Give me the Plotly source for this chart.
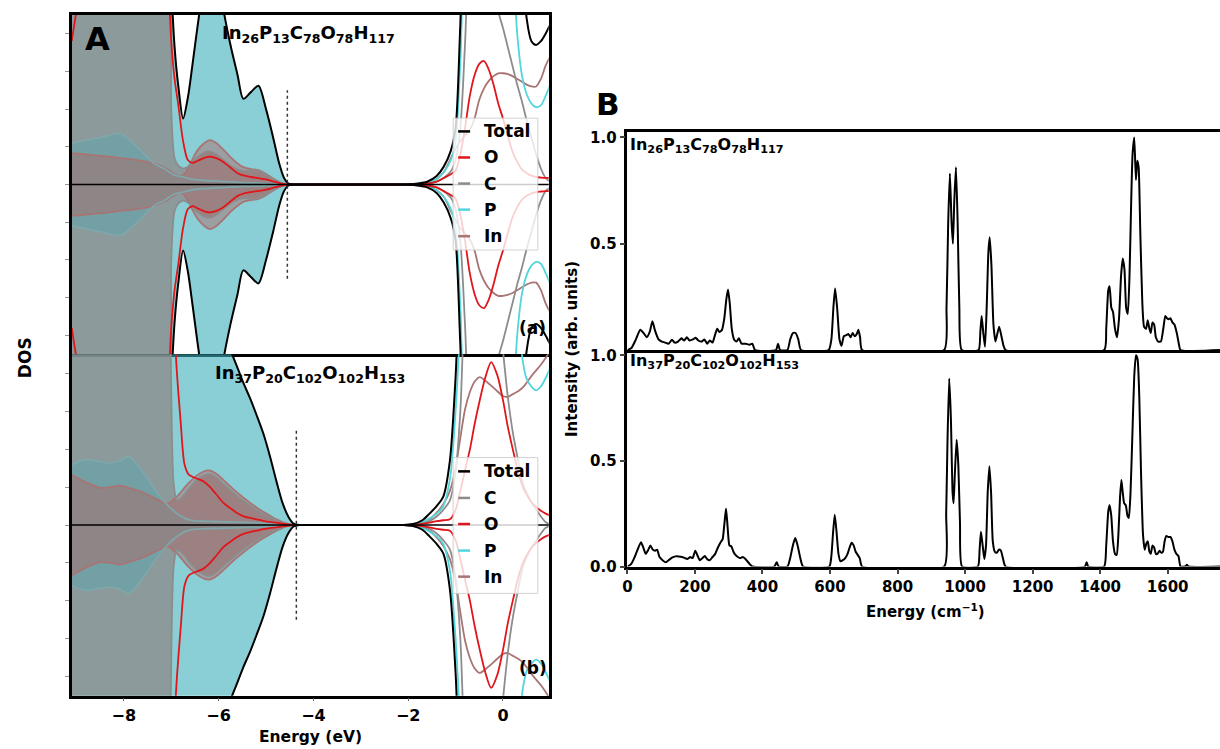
import plotly.graph_objects as go

W, H = 1220, 749
def px(x): return x / W
def py(y): return 1 - y / H

# ---------------- Panel A : projected DOS (spin up; spin down is mirrored) ----------------
E_a = [-9.1, -8.9, -8.7, -8.4, -8.07, -7.72, -7.37, -7.15, -7.06, -7.0,
       -6.93, -6.85, -6.75, -6.65, -6.55, -6.45, -6.3, -6.18, -6.05, -5.9,
       -5.75, -5.6, -5.48, -5.32, -5.16, -5.0, -4.85, -4.72, -4.62, -4.53,
       -4.4, -4.0, -3.0, -2.2, -2.0, -1.8, -1.6, -1.4, -1.25, -1.1,
       -1.0, -0.9, -0.8, -0.7, -0.6, -0.5, -0.4, -0.3, -0.2, -0.1,
       0.0, 0.1, 0.2, 0.3, 0.4, 0.5, 0.6, 0.7, 0.8, 0.9, 1.0]
TOTAL_a = [14, 14, 14, 14, 14, 14, 14, 14, 14, 10.5,
           7.3, 5.2, 3.5, 4.6, 6.4, 8.3, 11, 13, 12, 9.3,
           7.4, 5.8, 4.55, 4.9, 5.24, 4.0, 2.5, 1.1, 0.35, 0.05,
           0, 0, 0, 0, 0.01, 0.05, 0.15, 0.45, 0.95, 1.8,
           3.0, 8.5, 14, 14, 14, 14, 14, 14, 14, 14,
           14, 14, 14, 14, 12, 8.8, 7.6, 7.4, 7.6, 8.0, 8.5]
O_a = [7.6, 10.5, 12, 12, 12, 12, 12, 12, 10.5, 7.6,
       5.6, 4.2, 2.3, 1.3, 1.15, 1.25, 1.42, 1.48, 1.4, 1.2,
       0.9, 0.6, 0.48, 0.4, 0.34, 0.27, 0.17, 0.08, 0.03, 0,
       0, 0, 0, 0, 0, 0.02, 0.05, 0.15, 0.35, 0.55,
       0.75, 1.6, 3.0, 4.7, 5.8, 6.4, 6.55, 6.1, 5.3, 4.3,
       3.5, 2.6, 1.75, 1.2, 0.8, 0.6, 0.47, 0.4, 0.37, 0.35, 0.35]
C_a = [14, 14, 14, 14, 14, 14, 14, 14, 14, 4.0,
       1.4, 1.0, 0.85, 0.95, 1.2, 1.45, 1.7, 1.75, 1.6, 1.3,
       1.0, 0.8, 0.72, 0.75, 0.72, 0.52, 0.3, 0.12, 0.04, 0,
       0, 0, 0, 0, 0, 0.02, 0.05, 0.15, 0.35, 0.7,
       1.3, 3.0, 7.5, 13, 14, 14, 14, 14, 11.5, 9.2,
       8.3, 7.3, 6.3, 5.3, 4.4, 3.4, 2.5, 1.6, 0.85, 0.35, 0.15]
P_a = [2.18, 2.3, 2.4, 2.55, 2.7, 2.0, 1.13, 0.85, 0.7, 0.6,
       0.5, 0.45, 0.4, 0.33, 0.28, 0.25, 0.22, 0.2, 0.18, 0.16,
       0.14, 0.12, 0.1, 0.09, 0.08, 0.06, 0.04, 0.02, 0.01, 0,
       0, 0, 0, 0, 0.01, 0.04, 0.1, 0.3, 0.65, 1.3,
       2.3, 6.5, 13, 14, 14, 14, 14, 14, 14, 14,
       14, 14, 12, 8.0, 5.8, 4.8, 4.3, 4.1, 4.2, 4.7, 5.3]
IN_a = [1.66, 1.62, 1.57, 1.5, 1.4, 1.3, 1.13, 0.9, 0.78, 0.68,
        0.56, 0.46, 0.5, 0.85, 1.35, 1.8, 2.2, 2.36, 2.2, 1.85,
        1.45, 1.12, 0.92, 0.82, 0.76, 0.56, 0.32, 0.14, 0.05, 0.01,
        0, 0, 0, 0, 0.01, 0.04, 0.1, 0.3, 0.65, 1.4,
        1.9, 2.3, 2.6, 2.9, 3.5, 4.5, 5.1, 5.5, 5.75, 5.9,
        5.9, 5.85, 5.75, 5.6, 5.45, 5.3, 5.2, 5.2, 5.6, 6.3, 6.8]

E_b = [-9.1, -8.84, -8.5, -8.28, -8.07, -7.89, -7.58, -7.3, -7.09, -7.02,
       -6.95, -6.88, -6.8, -6.72, -6.63, -6.49, -6.32, -6.2, -6.05, -5.9,
       -5.76, -5.62, -5.48, -5.34, -5.2, -5.06, -4.92, -4.78, -4.65, -4.52,
       -4.42, -4.3, -3.5, -2.5, -2.1, -1.9, -1.7, -1.55, -1.4, -1.26,
       -1.12, -1.0, -0.9, -0.8, -0.7, -0.6, -0.49, -0.37, -0.25, -0.12,
       0.0, 0.1, 0.21, 0.32, 0.42, 0.5, 0.6, 0.7, 0.8, 0.9, 1.0]
TOTAL_b = [14, 14, 14, 14, 14, 14, 14, 14, 14, 14,
           14, 14, 14, 14, 14, 14, 14, 14, 14, 10.5,
           9.3, 8.4, 7.5, 6.7, 5.8, 4.85, 3.65, 2.3, 1.15, 0.4,
           0.08, 0, 0, 0, 0, 0.05, 0.25, 0.6, 1.0, 1.5,
           3.4, 7.8, 13, 14, 14, 14, 14, 14, 14, 14,
           14, 14, 14, 14, 14, 14, 14, 14, 14, 14, 14]
C_b = [14, 14, 14, 14, 14, 14, 14, 14, 14, 10,
       2.2, 1.3, 1.4, 1.6, 1.9, 2.3, 2.6, 2.68, 2.5, 2.15,
       1.85, 1.55, 1.28, 1.03, 0.8, 0.6, 0.42, 0.25, 0.12, 0.04,
       0, 0, 0, 0, 0, 0.02, 0.08, 0.2, 0.45, 0.8,
       1.3, 2.8, 6.0, 12, 14, 14, 14, 14, 14, 12.5,
       9.2, 6.8, 4.84, 3.4, 2.22, 1.7, 1.2, 0.82, 0.45, 0.15, 0.05]
O_b = [14, 14, 14, 14, 14, 14, 14, 14, 14, 14,
       11, 8.0, 5.4, 3.2, 2.65, 2.48, 2.3, 2.05, 1.62, 1.17,
       0.9, 0.65, 0.47, 0.37, 0.3, 0.22, 0.16, 0.12, 0.07, 0.03,
       0, 0, 0, 0, 0, 0.02, 0.06, 0.12, 0.2, 0.25,
       0.3, 0.8, 1.8, 2.9, 3.96, 5.3, 6.58, 7.8, 8.59, 7.9,
       6.58, 5.2, 3.96, 2.8, 2.0, 1.6, 1.2, 0.95, 0.75, 0.6, 0.5]
P_b = [3.18, 3.44, 3.35, 3.27, 3.4, 3.61, 2.74, 1.7, 1.08, 0.9,
       0.75, 0.6, 0.47, 0.36, 0.28, 0.22, 0.2, 0.19, 0.18, 0.17,
       0.16, 0.15, 0.14, 0.13, 0.12, 0.1, 0.08, 0.05, 0.03, 0.01,
       0, 0, 0, 0, 0, 0.03, 0.15, 0.35, 0.6, 1.0,
       2.4, 6.0, 10.5, 14, 14, 14, 14, 14, 14, 14,
       14, 14, 14, 11, 8.6, 7.7, 7.3, 7.1, 7.3, 7.75, 8.3]
IN_b = [2.65, 2.3, 1.96, 2.0, 2.08, 1.95, 1.7, 1.35, 1.14, 1.2,
        1.35, 1.5, 1.72, 1.97, 2.22, 2.55, 2.82, 2.88, 2.7, 2.38,
        2.05, 1.73, 1.45, 1.18, 0.92, 0.7, 0.5, 0.3, 0.15, 0.05,
        0.01, 0, 0, 0, 0, 0.03, 0.12, 0.3, 0.65, 1.1,
        1.8, 3.0, 4.6, 6.1, 7.0, 7.55, 7.8, 7.6, 7.35, 7.05,
        6.8, 6.75, 6.9, 7.05, 7.25, 7.5, 7.85, 8.15, 8.45, 8.8, 9.2]

VBM = [-4.55, -4.36]          # valence band maximum markers (eV)
VBM_HALF = 5.0                # half height of the dotted marker
FORMULAS = ["In<sub>26</sub>P<sub>13</sub>C<sub>78</sub>O<sub>78</sub>H<sub>117</sub>",
            "In<sub>37</sub>P<sub>20</sub>C<sub>102</sub>O<sub>102</sub>H<sub>153</sub>"]
LEGEND_ORDERS = [["Total", "O", "C", "P", "In"], ["Total", "C", "O", "P", "In"]]
EV_TICKS = [-8, -6, -4, -2, 0]

# ---------------- Panel B : vibrational spectra ----------------
WN_a = [0, 12, 25, 38, 48, 57, 66, 74, 82, 92, 102, 112, 122, 132, 140, 150, 160, 168, 176, 184,
        194, 202, 210, 220, 228, 236, 244, 252, 260, 266, 272, 280, 287, 293, 298, 303, 309, 316, 323, 330,
        338, 350, 362, 370, 378, 440, 446, 452, 474, 482, 490, 498, 506, 514,
        596, 604, 610, 615, 621, 628, 634, 641, 648, 655, 661, 667, 673, 679, 684, 689, 695,
        938, 945, 950, 955, 960, 964, 968, 973, 978, 983, 990,
        1040, 1045, 1049, 1054, 1059, 1064, 1069, 1073, 1078, 1084, 1090, 1096, 1101, 1107, 1114, 1120,
        1412, 1418, 1424, 1428, 1433, 1438, 1444, 1450, 1456, 1462, 1467, 1472, 1477, 1482, 1487, 1492,
        1496, 1501, 1506, 1510, 1514, 1519, 1525, 1530, 1536, 1541, 1546, 1550, 1555, 1560, 1565, 1572,
        1580, 1587, 1593, 1598, 1603, 1608, 1614, 1620, 1627, 1633, 1638, 1755]
INT_a = [0, 0.01, 0.05, 0.095, 0.08, 0.06, 0.085, 0.135, 0.09, 0.05, 0.04, 0.035, 0.03, 0.048, 0.035, 0.04, 0.055, 0.045, 0.06, 0.045,
         0.05, 0.058, 0.045, 0.04, 0.05, 0.03, 0.045, 0.035, 0.075, 0.1, 0.085, 0.095, 0.15, 0.24, 0.285, 0.22, 0.1, 0.05, 0.04, 0.055,
         0.03, 0.03, 0.025, 0.03, 0, 0, 0.03, 0, 0, 0.05, 0.08, 0.08, 0.05, 0,
         0, 0.05, 0.2, 0.29, 0.2, 0.05, 0.02, 0.065, 0.07, 0.075, 0.06, 0.08, 0.065, 0.075, 0.095, 0.06, 0,
         0, 0.2, 0.6, 0.83, 0.6, 0.5, 0.7, 0.86, 0.6, 0.2, 0,
         0, 0.08, 0.16, 0.08, 0.015, 0.2, 0.46, 0.53, 0.4, 0.12, 0.04, 0.08, 0.11, 0.07, 0.02, 0,
         0, 0.1, 0.28, 0.3, 0.2, 0.18, 0.1, 0.06, 0.15, 0.35, 0.43, 0.38, 0.2, 0.17, 0.35, 0.7,
         0.92, 1.0, 0.8, 0.89, 0.86, 0.55, 0.22, 0.11, 0.1, 0.14, 0.1, 0.08, 0.13, 0.12, 0.06, 0.04,
         0.04, 0.1, 0.16, 0.15, 0.145, 0.15, 0.13, 0.12, 0.08, 0.03, 0, 0]
WN_b = [0, 10, 20, 30, 40, 47, 54, 62, 68, 75, 82, 88, 95, 104, 114, 122, 132, 142, 152, 162,
        170, 178, 186, 193, 201, 208, 214, 222, 229, 236, 244, 252, 260, 268, 276, 282, 287, 292, 297, 302,
        308, 314, 320, 327, 334, 341, 348, 355, 362, 370, 435, 442, 448, 474, 482, 490, 497, 504, 512, 520,
        598, 604, 609, 614, 619, 625, 631, 638, 645, 652, 658, 664, 670, 676, 682, 688, 695,
        938, 944, 948, 953, 958, 963, 966, 970, 975, 980, 985, 991,
        1038, 1043, 1047, 1052, 1057, 1062, 1067, 1072, 1077, 1082, 1088, 1094, 1100, 1106, 1112, 1120,
        1355, 1360, 1365,
        1412, 1418, 1424, 1428, 1433, 1438, 1444, 1449, 1454, 1459, 1463, 1467, 1471, 1476, 1481, 1485,
        1490, 1496, 1501, 1506, 1511, 1516, 1521, 1527, 1532, 1537, 1541, 1546, 1550, 1555, 1560, 1565,
        1570, 1576, 1581, 1586, 1591, 1596, 1602, 1608, 1614, 1620, 1626, 1632, 1638, 1652, 1657, 1662, 1755]
INT_b = [0, 0.01, 0.04, 0.08, 0.115, 0.09, 0.06, 0.08, 0.1, 0.08, 0.075, 0.08, 0.045, 0.03, 0.02, 0.03, 0.042, 0.048, 0.048, 0.045,
         0.04, 0.036, 0.045, 0.04, 0.075, 0.05, 0.03, 0.04, 0.05, 0.035, 0.03, 0.045, 0.06, 0.09, 0.115, 0.13, 0.2, 0.275, 0.18, 0.1,
         0.095, 0.07, 0.055, 0.045, 0.04, 0.045, 0.038, 0.025, 0.012, 0, 0, 0.02, 0, 0, 0.04, 0.1, 0.135, 0.1, 0.04, 0,
         0, 0.05, 0.16, 0.245, 0.17, 0.06, 0.025, 0.03, 0.04, 0.06, 0.09, 0.113, 0.1, 0.07, 0.055, 0.04, 0,
         0, 0.25, 0.6, 0.89, 0.7, 0.35, 0.3, 0.45, 0.6, 0.48, 0.2, 0,
         0, 0.08, 0.165, 0.1, 0.035, 0.1, 0.35, 0.475, 0.35, 0.12, 0.07, 0.065, 0.08, 0.075, 0.04, 0,
         0, 0.02, 0,
         0, 0.1, 0.26, 0.29, 0.24, 0.12, 0.06, 0.055, 0.15, 0.33, 0.41, 0.35, 0.3, 0.29, 0.24, 0.23,
         0.35, 0.65, 0.9, 1.0, 0.98, 0.8, 0.45, 0.15, 0.08, 0.11, 0.12, 0.07, 0.06, 0.1, 0.09, 0.06,
         0.06, 0.075, 0.065, 0.07, 0.12, 0.145, 0.14, 0.14, 0.12, 0.08, 0.06, 0.05, 0, 0, 0.008, 0, 0]
WN_TICKS = [0, 200, 400, 600, 800, 1000, 1200, 1400, 1600]

for arrs in [(E_a, TOTAL_a, O_a, C_a, P_a, IN_a), (E_b, TOTAL_b, O_b, C_b, P_b, IN_b),
             (WN_a, INT_a), (WN_b, INT_b)]:
    assert len(set(len(a) for a in arrs)) == 1, [len(a) for a in arrs]

# ---------------- styles ----------------
FONT = "DejaVu Sans"
COL = {"Total": "#000000", "O": "#e0161b", "C": "#8c8c8c", "P": "#52d6dc", "In": "#a87474"}
COL_VAL = {"Total": "#000000", "O": "#e0161b", "C": "#8c8c8c", "P": "#7fa7ab", "In": "#a87474"}
FILL = {"Total": "rgba(60,175,185,0.6)", "C": "rgba(140,140,140,0.8)",
        "P": "rgba(60,175,185,0.3)", "In": "rgba(175,100,100,0.45)"}

fig = go.Figure()

def tr(x, y, xa, ya, color, width, fill=None, fillcolor=None):
    return go.Scatter(x=x, y=y, mode="lines", xaxis=xa, yaxis=ya,
                      line=dict(color=color, width=width, shape="spline", smoothing=0.8),
                      fill=fill, fillcolor=fillcolor, hoverinfo="skip", showlegend=False)

panels = [
    dict(E=E_a, d={"Total": TOTAL_a, "O": O_a, "C": C_a, "P": P_a, "In": IN_a}, vbm=VBM[0], xa="x", ya="y"),
    dict(E=E_b, d={"Total": TOTAL_b, "O": O_b, "C": C_b, "P": P_b, "In": IN_b}, vbm=VBM[1], xa="x2", ya="y2"),
]
for p in panels:
    E = p["E"]
    idx_v = [i for i, e in enumerate(E) if e <= p["vbm"] + 0.2]          # valence part
    idx_c = list(range(idx_v[-1], len(E)))                                # gap + conduction part
    Ev = [E[i] for i in idx_v]
    Ec = [E[i] for i in idx_c]
    for key in ["Total", "C", "P", "In"]:
        vals = [p["d"][key][i] for i in idx_v]
        for s in (1, -1):
            fig.add_trace(tr(Ev, [s * v for v in vals], p["xa"], p["ya"], "rgba(0,0,0,0)", 0,
                             "tozeroy", FILL[key]))
    for key, w in [("In", 1.8), ("P", 1.8), ("C", 1.8), ("O", 1.8), ("Total", 2.0)]:
        for s in (1, -1):
            fig.add_trace(tr(Ev, [s * p["d"][key][i] for i in idx_v], p["xa"], p["ya"], COL_VAL[key], w))
            fig.add_trace(tr(Ec, [s * p["d"][key][i] for i in idx_c], p["xa"], p["ya"], COL[key], w))

for wn, it, xa, ya in [(WN_a, INT_a, "x3", "y3"), (WN_b, INT_b, "x4", "y4")]:
    fig.add_trace(go.Scatter(x=wn, y=it, mode="lines", xaxis=xa, yaxis=ya,
                             line=dict(color="black", width=2, shape="spline", smoothing=0.5),
                             hoverinfo="skip", showlegend=False))

# ---------------- axes ----------------
base = dict(showline=True, linecolor="black", linewidth=2.5, showgrid=False, zeroline=False)
tickf17 = dict(family=FONT, size=16, color="black", weight="bold")
tickf15 = dict(family=FONT, size=15, color="black", weight="bold")
A_dom = [px(67), px(546)]
A_rng = [-9.1, 0.966]
B_dom = [px(625), 1.0]
B_rng = [0, 1755]
fig.update_layout(
    xaxis=dict(domain=A_dom, range=A_rng, anchor="y", showticklabels=False, ticks="", mirror=True, **base),
    yaxis=dict(domain=[py(357), py(12)], range=[-9, 9], anchor="x", ticks="outside",
               tickvals=[-8, -6, -4, -2, 0, 2, 4, 6, 8], ticklen=4, tickwidth=1, tickcolor="#999",
               showticklabels=False, mirror=True, **base),
    xaxis2=dict(domain=A_dom, range=A_rng, anchor="y2", ticks="outside", tickvals=EV_TICKS,
                ticklen=3, tickwidth=1, tickcolor="#666", tickfont=tickf17, mirror=False, **base),
    yaxis2=dict(domain=[py(704), py(357)], range=[-9, 9], anchor="x2", ticks="outside",
                tickvals=[-8, -6, -4, -2, 0, 2, 4, 6, 8], ticklen=4, tickwidth=1, tickcolor="#999",
                showticklabels=False, mirror=True, **base),
    xaxis3=dict(domain=B_dom, range=B_rng, anchor="y3", showticklabels=False, ticks="", mirror=True, **base),
    yaxis3=dict(domain=[py(352.7), py(131)], range=[0, 1.026], anchor="x3", ticks="outside",
                tickvals=[0.5, 1.0], ticktext=["0.5", "1.0"], ticklen=5, tickwidth=1.5,
                tickfont=tickf15, mirror=False, **base),
    xaxis4=dict(domain=B_dom, range=B_rng, anchor="y4", ticks="outside", tickvals=WN_TICKS,
                ticklen=5, tickwidth=1.5, tickfont=tickf15, mirror=False, **base),
    yaxis4=dict(domain=[py(572.7), py(352.7)], range=[0, 1.025], anchor="x4", ticks="outside",
                tickvals=[0, 0.5, 1.0], ticktext=["0.0", "0.5", "1.0"], ticklen=5, tickwidth=1.5,
                tickfont=tickf15, mirror=False, **base),
)

# ---------------- shapes: zero lines, VBM markers, legends ----------------
shapes = []
for xa, ya, v in [("x", "y", VBM[0]), ("x2", "y2", VBM[1])]:
    shapes.append(dict(type="line", xref=xa + " domain", yref=ya, x0=0, x1=1, y0=0, y1=0,
                       line=dict(color="black", width=1.5), layer="above"))
    shapes.append(dict(type="line", xref=xa, yref=ya, x0=v, x1=v, y0=-VBM_HALF, y1=VBM_HALF,
                       line=dict(color="#333", width=1.5, dash="dot"), layer="above"))

annotations = []
def ann(x, y, text, size, **kw):
    d = dict(x=px(x), y=py(y), xref="paper", yref="paper", text=text, showarrow=False,
             font=dict(family=FONT, size=size, color="black"), xanchor="center", yanchor="middle")
    d.update(kw)
    annotations.append(d)

legend_boxes = [(450, 535, 117, 251, [130.5, 157, 183.5, 210, 237]),
                (450, 535, 462, 600, [476, 503, 529.5, 556.5, 583])]
for (x0, x1, y0, y1, ys), order in zip(legend_boxes, LEGEND_ORDERS):
    shapes.append(dict(type="rect", xref="paper", yref="paper", x0=px(x0), x1=px(x1),
                       y0=py(y1), y1=py(y0), fillcolor="rgba(255,255,255,0.8)",
                       line=dict(color="rgba(205,205,205,0.9)", width=1), layer="above"))
    for name, yy in zip(order, ys):
        shapes.append(dict(type="line", xref="paper", yref="paper", x0=px(455), x1=px(467),
                           y0=py(yy), y1=py(yy), line=dict(color=COL[name], width=2.5), layer="above"))
        ann(479, yy, "<b>%s</b>" % name, 17, xanchor="left")

ann(92.5, 36.5, "<b>A</b>", 32)
ann(605, 103, "<b>B</b>", 31)
ann(304.5, 32, "<b>%s</b>" % FORMULAS[0], 18)
ann(306.0, 377, "<b>%s</b>" % FORMULAS[1], 18)
ann(530, 330, "<b>(a)</b>", 17)
ann(530, 676, "<b>(b)</b>", 17)
ann(20, 360, "<b>DOS</b>", 17, textangle=-90)
ann(306.5, 738, "<b>Energy (eV)</b>", 15.5, yshift=-8)
ann(570, 352, "<b>Intensity (arb. units)</b>", 15, textangle=-90)
ann(924, 618, "<b>Energy (cm<sup>−1</sup>)</b>", 15)
ann(626, 145, "<b>%s</b>" % FORMULAS[0], 16, xanchor="left")
ann(626, 364, "<b>%s</b>" % FORMULAS[1], 16, xanchor="left")

fig.update_layout(width=W, height=H, autosize=False, margin=dict(l=0, r=0, t=0, b=0),
                  paper_bgcolor="white", plot_bgcolor="white", showlegend=False,
                  font=dict(family=FONT, color="black"), shapes=shapes, annotations=annotations)

fig.write_html("out.html")
